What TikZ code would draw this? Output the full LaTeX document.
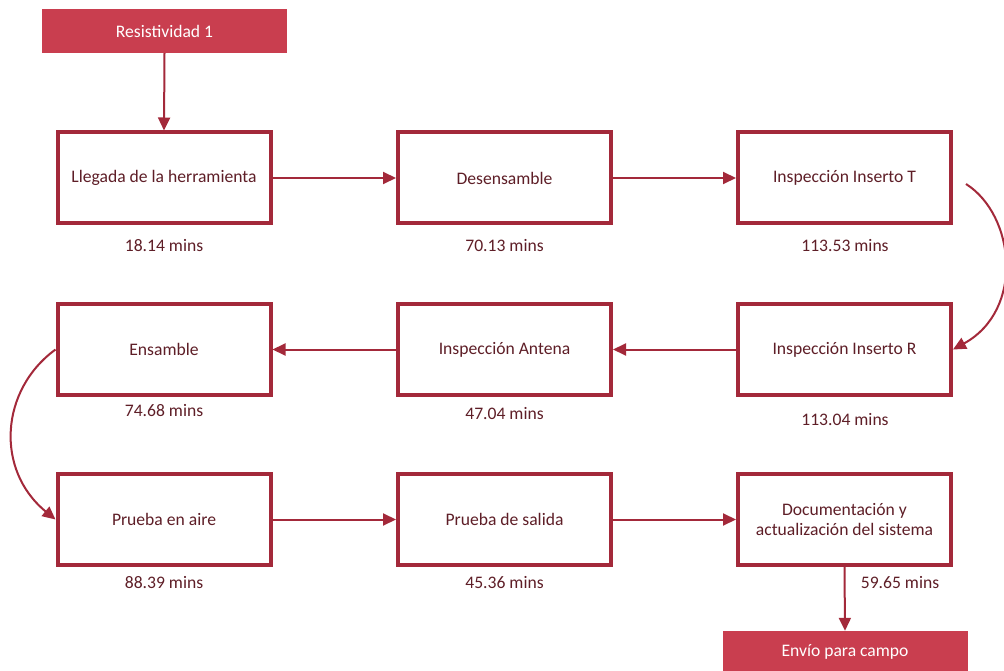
\documentclass[tikz,border=0pt]{standalone}
\usepackage{fontspec}
\setmainfont{Carlito}
\usetikzlibrary{arrows.meta}
\definecolor{frame}{HTML}{A3293A}
\definecolor{fillred}{HTML}{C93E4F}
\definecolor{ink}{HTML}{5E1E27}
\begin{document}
\begin{tikzpicture}[x=1pt,y=-1pt,
  txt/.style={font=\fontsize{17.6}{20.5}\selectfont},
  stepbox/.style={txt,draw=frame,line width=4pt,fill=white,minimum width=213pt,minimum height=91pt,
    text=ink,align=center,inner sep=0pt},
  endbox/.style={txt,fill=fillred,minimum width=245pt,minimum height=44pt,text=white,inner sep=0pt},
  tlabel/.style={txt,text=ink,inner sep=0pt},
  conn/.style={draw=frame,line width=2pt,-{Triangle[length=13pt,width=12pt]}}]
\path[use as bounding box] (0,0) rectangle (1004,671);
\clip (0,0) rectangle (1004,671);

% start and end tags
\node[endbox] (res) at (164.5,31) {Resistividad 1};
\node[endbox,text depth=3pt,minimum height=42pt] (env) at (845,652) {Envío para campo};

% row 1
\node[stepbox] (lleg) at (164,178) {Llegada de la herramienta};
\node[stepbox] (des) at (504.5,178) {Desensamble};
\node[stepbox] (insT) at (844.5,178) {Inspección Inserto T};
% row 2
\node[stepbox] (ens) at (164,349.5) {Ensamble};
\node[stepbox] (ant) at (504.5,349.5) {Inspección Antena};
\node[stepbox] (insR) at (844.5,349.5) {Inspección Inserto R};
% row 3
\node[stepbox] (aire) at (164,519.5) {Prueba en aire};
\node[stepbox] (sal) at (504.5,519.5) {Prueba de salida};
\node[stepbox] (doc) at (844.5,519.5) {Documentación y\\actualización del sistema};

% times
\node[tlabel] (t1) at (164,246) {18.14 mins};
\node[tlabel] (t2) at (504.5,246) {70.13 mins};
\node[tlabel] (t3) at (845,246) {113.53 mins};
\node[tlabel] (t4) at (164,411) {74.68 mins};
\node[tlabel] (t5) at (504.5,414) {47.04 mins};
\node[tlabel] (t6) at (845,420) {113.04 mins};
\node[tlabel] (t7) at (164,583) {88.39 mins};
\node[tlabel] (t8) at (504.5,583) {45.36 mins};
\node[tlabel] (t9) at (900,583) {59.65 mins};

% connectors
\coordinate (rs) at (966,184);
\draw[conn] (res.south) -- (lleg.north);
\draw[conn] (lleg.east) -- (des.west);
\draw[conn] (des.east) -- (insT.west);
\draw[conn] (rs) .. controls (1015,215) and (1025,310) .. (insR.east);
\draw[conn] (insR.west) -- (ant.east);
\draw[conn] (ant.west) -- (ens.east);
\draw[conn] (ens.west) .. controls (0,390) and (-5,470) .. (aire.west);
\draw[conn] (aire.east) -- (sal.west);
\draw[conn] (sal.east) -- (doc.west);
\draw[conn] (doc.south) -- (env.north);
\end{tikzpicture}
\end{document}
